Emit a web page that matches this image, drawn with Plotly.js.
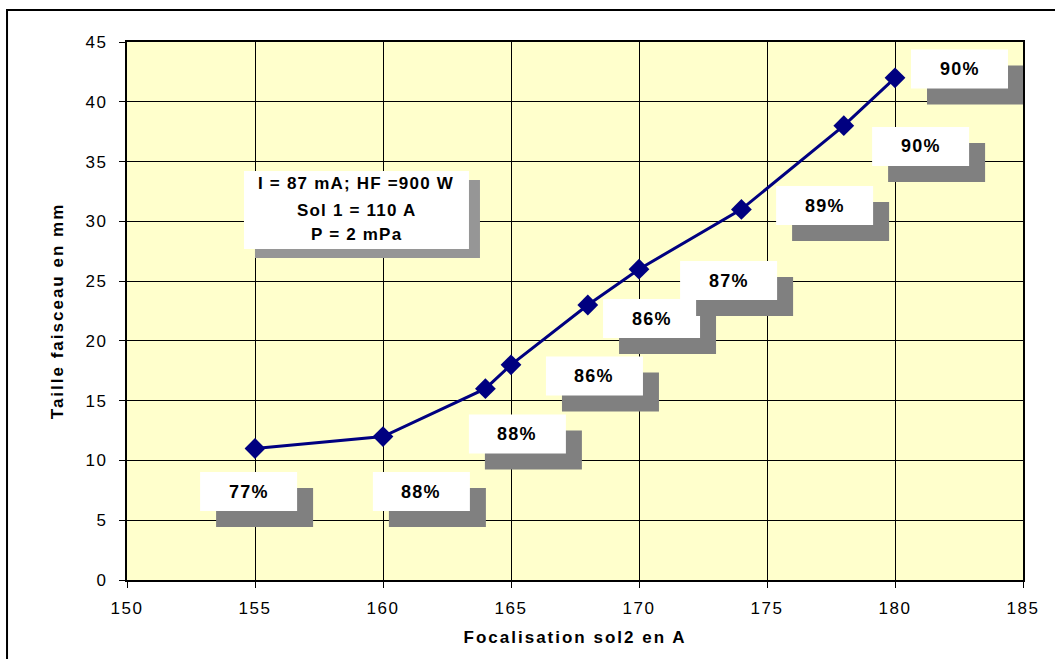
<!DOCTYPE html>
<html>
<head>
<meta charset="utf-8">
<script src="https://cdn.plot.ly/plotly-3.0.1.min.js"></script>
<style>
  html, body { margin: 0; padding: 0; background: #fff; }
  #chart { width: 1055px; height: 659px; }
  .xtick text, .ytick text { letter-spacing: 1.6px; }
  .annotation-text { letter-spacing: 1.2px; }
  .g-xtitle text, .g-ytitle text { letter-spacing: 2px; }
</style>
</head>
<body>
<div id="chart"></div>
<script>
// ---- data ----
const focalisation = [155, 160, 164, 165, 168, 170, 174, 178, 180];
const tailleFaisceau = [11, 12, 16, 18, 23, 26, 31, 38, 42];
const rendement = ["77%", "88%", "88%", "86%", "86%", "87%", "89%", "90%", "90%"];
const infoLines = ["I = 87 mA; HF =900 W", "Sol 1 = 110 A", "P = 2 mPa"];

// ---- label placement (data coordinates of each label box centre) ----
const labelX = [154.75, 161.50, 165.25, 168.26, 170.49, 173.50, 177.25, 181.00, 182.52];
const labelY = [7.40, 7.40, 12.21, 17.06, 21.87, 25.05, 31.32, 36.26, 42.74];

const navy = "#000080";
const font = "Liberation Sans, Arial, sans-serif";

const trace = {
  x: focalisation,
  y: tailleFaisceau,
  type: "scatter",
  mode: "lines+markers",
  line: { color: navy, width: 3 },
  marker: { symbol: "diamond", size: 16, color: navy },
  hoverinfo: "x+y",
  showlegend: false
};

const shapes = [];
const annotations = [];

// outer frame
shapes.push({
  type: "rect", xref: "paper", yref: "paper",
  x0: -0.1339, x1: 1.06, y0: -0.2, y1: 1.0595,
  line: { color: "#000", width: 2 }, fillcolor: "rgba(0,0,0,0)", layer: "below"
});

// data labels with shadow
for (let i = 0; i < rendement.length; i++) {
  shapes.push({
    type: "rect", xref: "x", yref: "y",
    xsizemode: "pixel", ysizemode: "pixel",
    xanchor: labelX[i], yanchor: labelY[i],
    x0: -32.5, x1: 64.5, y0: -35.5, y1: 3.5,
    fillcolor: "#808080", line: { width: 0 }, layer: "above"
  });
  shapes.push({
    type: "rect", xref: "x", yref: "y",
    xsizemode: "pixel", ysizemode: "pixel",
    xanchor: labelX[i], yanchor: labelY[i],
    x0: -48.5, x1: 48.5, y0: -19.5, y1: 19.5,
    fillcolor: "#ffffff", line: { width: 0 }, layer: "above"
  });
  annotations.push({
    x: labelX[i], y: labelY[i], xref: "x", yref: "y",
    text: "<b>" + rendement[i] + "</b>", showarrow: false,
    font: { family: font, size: 18, color: "#000" },
    xanchor: "center", yanchor: "middle"
  });
}

// info box
const infoCx = 0.2561, infoCy = 0.6877;
shapes.push({
  type: "rect", xref: "paper", yref: "paper",
  xsizemode: "pixel", ysizemode: "pixel",
  xanchor: infoCx, yanchor: infoCy,
  x0: -101.5, x1: 123.5, y0: -48, y1: 30,
  fillcolor: "#969696", line: { width: 0 }, layer: "above"
});
shapes.push({
  type: "rect", xref: "paper", yref: "paper",
  xsizemode: "pixel", ysizemode: "pixel",
  xanchor: infoCx, yanchor: infoCy,
  x0: -112.5, x1: 112.5, y0: -39, y1: 39,
  fillcolor: "#ffffff", line: { width: 0 }, layer: "above"
});
const infoYs = [0.7361, 0.6877, 0.6413];
infoLines.forEach((t, k) => {
  annotations.push({
    x: infoCx, y: infoYs[k], xref: "paper", yref: "paper",
    text: "<b>" + t + "</b>", showarrow: false,
    font: { family: font, size: 17, color: "#000" },
    xanchor: "center", yanchor: "middle"
  });
});

const layout = {
  width: 1055, height: 659,
  margin: { l: 127, r: 32, t: 42, b: 79 },
  paper_bgcolor: "#ffffff",
  plot_bgcolor: "#FFFFCC",
  font: { family: font, size: 17, color: "#000" },
  xaxis: {
    range: [150, 185], dtick: 5, tick0: 150,
    showgrid: true, gridcolor: "#000", gridwidth: 1,
    showline: true, linecolor: "#000", linewidth: 2, mirror: true,
    ticks: "outside", ticklen: 6, tickcolor: "#000", tickwidth: 1,
    ticklabelstandoff: 6,
    tickfont: { family: font, size: 17, color: "#000" },
    zeroline: false, fixedrange: true,
    title: { text: "<b>Focalisation sol2 en A</b>", font: { family: font, size: 17, color: "#000" }, standoff: 14 }
  },
  yaxis: {
    range: [0, 45], dtick: 5, tick0: 0,
    showgrid: true, gridcolor: "#000", gridwidth: 1,
    showline: true, linecolor: "#000", linewidth: 2, mirror: true,
    ticks: "outside", ticklen: 6, tickcolor: "#000", tickwidth: 1,
    ticklabelstandoff: 8,
    tickfont: { family: font, size: 17, color: "#000" },
    zeroline: false, fixedrange: true,
    title: { text: "<b>Taille faisceau en mm</b>", font: { family: font, size: 17, color: "#000" }, standoff: 18 }
  },
  shapes: shapes,
  annotations: annotations,
  showlegend: false
};

Plotly.newPlot("chart", [trace], layout, { displayModeBar: false, staticPlot: false });
</script>
</body>
</html>
